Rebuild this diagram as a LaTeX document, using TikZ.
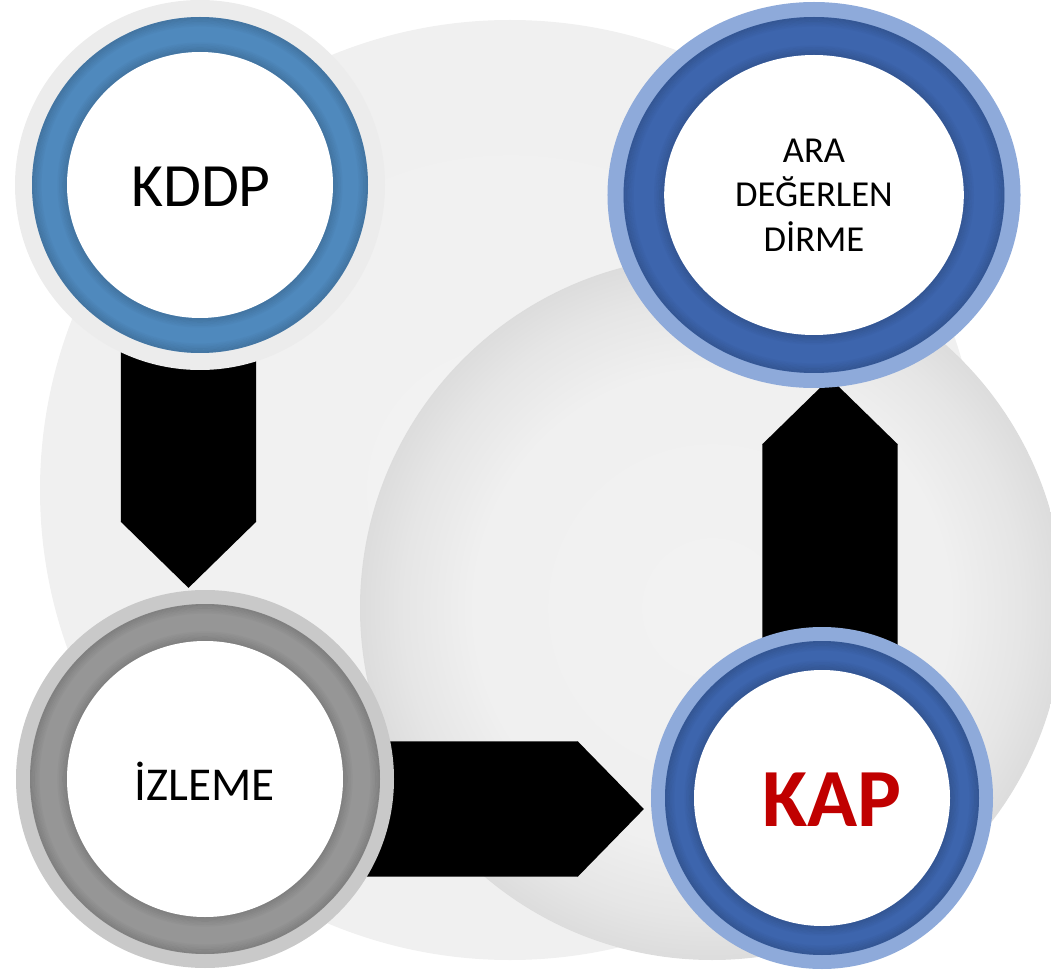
\documentclass[tikz,border=0pt]{standalone}
\usepackage{fontspec}
\setmainfont{Carlito}
\usetikzlibrary{arrows.meta,shapes.geometric}

\definecolor{kddpblue}{RGB}{79,137,189}
\definecolor{halogray}{RGB}{236,236,236}
\definecolor{ringblue}{RGB}{61,101,173}
\definecolor{paleblue}{RGB}{142,170,218}
\definecolor{ringgray}{RGB}{150,150,150}
\definecolor{palegray}{RGB}{201,201,201}
\definecolor{kapred}{RGB}{192,0,0}

% rim of a shaded circle sits at about 35.4bp
\pgfdeclareradialshading{plate}{\pgfpointorigin}{color(0bp)=(black!5); color(26bp)=(black!6); color(35.4bp)=(black!11); color(50bp)=(black!11)}
\pgfdeclareradialshading{globe}{\pgfpointorigin}{color(0bp)=(black!5); color(17bp)=(black!6); color(22bp)=(black!10); color(27bp)=(black!16); color(31bp)=(black!24); color(34bp)=(black!30); color(50bp)=(black!32)}

\def\ringdisk(#1)[#2](#3:#4:#5)[#6/#7]{%
  \begin{scope}[shift={(#1)}, xscale=#2]
    \fill[#6] (0,0) circle [radius=#3];
    \fill[#7] (0,0) circle [radius=#4];
    % soft inner shadow on both edges of the band
    \foreach \k in {1,...,6} {
      \pgfmathsetmacro\op{.3*(7-\k)/6}
      \draw[#7!55!black, opacity=\op, line width=.45pt] (0,0) circle [radius=#4-1.6*\k+0.8];
      \draw[#7!55!black, opacity=\op, line width=.45pt] (0,0) circle [radius=#5+1.6*\k-0.8];
    }
    \fill[white] (0,0) circle [radius=#5];
  \end{scope}}

\begin{document}
\begin{tikzpicture}[x=0.01cm, y=-0.01cm,
    spot/.style={circle, inner sep=0pt, outer sep=0pt},
    blockarrow/.style={line width=1.35cm, black, -{Triangle[width=0pt 1, length=0pt .49, line width=.6pt]}},
    lbl/.style={align=center, inner sep=0pt}]
			%%%%% START %%%%%
			\useasboundingbox (0,0) rectangle (1051,970);
			\clip (0,0) rectangle (1051,970);
			
			\shade[shading=plate] (510,490) circle [radius=470];
			\shade[shading=globe] (712,608) circle [radius=352];
			
			\node[spot, minimum size=3.70cm] (kddp) at (200,185) {};
			\node[spot, ellipse, minimum width=4.13cm, minimum height=3.86cm] (ara) at (814,195) {};
			\node[spot, minimum size=3.78cm] (izleme) at (205,779) {};
			\node[spot, minimum size=3.42cm] (kap) at (822,798) {};
			
			\draw[blockarrow] ([xshift=-.115cm]kddp.center) -- ([xshift=-.165cm, yshift=.02cm]izleme.north);
			\draw[blockarrow] ([yshift=-.30cm]izleme.center) -- ([xshift=-.07cm, yshift=-.11cm]kap.west);
			\draw[blockarrow] ([xshift=.08cm]kap.center) -- ([xshift=.16cm, yshift=.10cm]ara.south);
			
			\ringdisk(kddp)[1](185:168:133)[halogray/kddpblue]
			\ringdisk(ara)[1.07](193:178:140)[paleblue/ringblue]
			\ringdisk(izleme)[1](189:175:138)[palegray/ringgray]
			\ringdisk(kap)[1](171:157:128)[paleblue/ringblue]
			
			\node[lbl, font=\fontsize{17.5}{21}\selectfont] (kddp-txt) at ([xshift=.01cm, yshift=-.02cm]kddp) {KDDP};
			\node[lbl, font=\fontsize{10.4}{12.6}\selectfont] (ara-txt) at ([yshift=.0cm]ara) {ARA\\DEĞERLEN\\DİRME};
			\node[lbl, font=\fontsize{13.4}{16}\selectfont] (izleme-txt) at ([yshift=-.02cm]izleme) {İZLEME};
			\node[lbl, font=\fontsize{23.5}{28}\selectfont\bfseries, text=kapred] (kap-txt) at ([xshift=.10cm, yshift=-.02cm]kap) {KAP};
			%%%%% END %%%%%
\end{tikzpicture}
\end{document}
